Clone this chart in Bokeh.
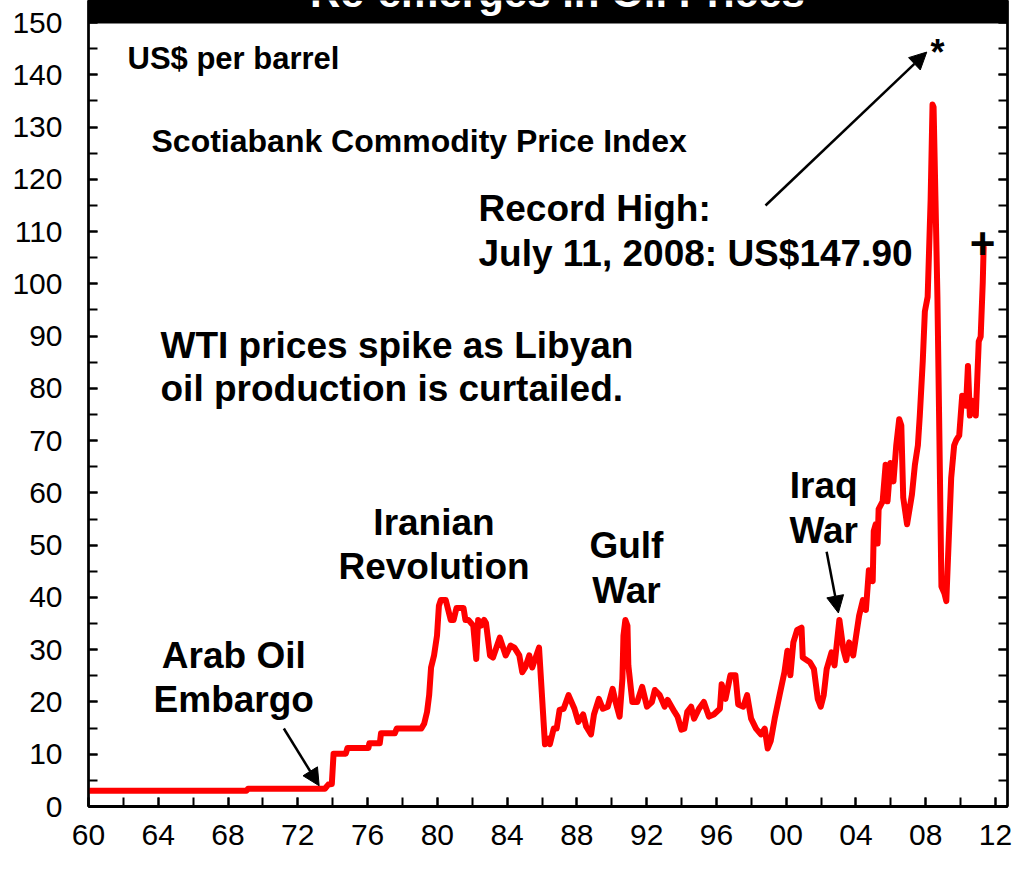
from bokeh.plotting import figure
from bokeh.models import Range1d, LinearAxis, FixedTicker, Label, Arrow, NormalHead, BoxAnnotation
from bokeh.embed import file_html
from bokeh.resources import INLINE

# ---------------- data ----------------
years = [1960.0, 1969.05, 1969.15, 1973.55, 1973.75, 1973.95, 1974.05, 1974.75, 1974.85, 1976.05,
         1976.1, 1976.7, 1976.77, 1977.56, 1977.67, 1979.08, 1979.25, 1979.41, 1979.53, 1979.64,
         1979.81, 1979.98, 1980.09, 1980.2, 1980.48, 1980.77, 1980.93, 1981.1, 1981.5, 1981.61,
         1981.78, 1982.06, 1982.23, 1982.34, 1982.51, 1982.68, 1982.79, 1983.02, 1983.19, 1983.58,
         1983.92, 1984.2, 1984.42, 1984.7, 1984.87, 1985.04, 1985.27, 1985.44, 1985.83, 1986.17,
         1986.39, 1986.45, 1986.67, 1986.84, 1987.01, 1987.24, 1987.52, 1987.86, 1988.08, 1988.36,
         1988.53, 1988.81, 1988.98, 1989.26, 1989.49, 1989.77, 1990.05, 1990.22, 1990.45, 1990.61,
         1990.67, 1990.78, 1990.9, 1990.95, 1991.18, 1991.46, 1991.74, 1992.02, 1992.3, 1992.47,
         1992.75, 1993.03, 1993.2, 1993.6, 1993.77, 1993.99, 1994.16, 1994.33, 1994.55, 1994.72,
         1995.0, 1995.28, 1995.57, 1995.85, 1996.2, 1996.3, 1996.52, 1996.8, 1997.09, 1997.25,
         1997.54, 1997.76, 1997.99, 1998.27, 1998.55, 1998.77, 1998.94, 1999.11, 1999.34, 1999.62,
         1999.9, 2000.07, 2000.24, 2000.41, 2000.63, 2000.88, 2000.95, 2001.36, 2001.59, 2001.81,
         2001.98, 2002.15, 2002.32, 2002.6, 2002.77, 2003.05, 2003.28, 2003.44, 2003.61, 2003.84,
         2004.01, 2004.18, 2004.4, 2004.57, 2004.74, 2004.96, 2005.02, 2005.13, 2005.24, 2005.3,
         2005.53, 2005.7, 2005.81, 2005.98, 2006.15, 2006.31, 2006.48, 2006.6, 2006.71, 2006.93,
         2007.21, 2007.38, 2007.55, 2007.66, 2007.83, 2007.95, 2008.11, 2008.28, 2008.39, 2008.45,
         2008.56, 2008.67, 2008.79, 2008.9, 2009.07, 2009.18, 2009.46, 2009.63, 2009.75, 2009.92,
         2010.09, 2010.31, 2010.42, 2010.53, 2010.7, 2010.87, 2011.04, 2011.15, 2011.27, 2011.32]
wti = [3.0, 3.0, 3.4, 3.4, 4.2, 4.3, 10.1, 10.1, 11.2, 11.2,
       12.1, 12.1, 14.0, 14.0, 14.9, 14.9, 15.9, 18.1, 21.3, 26.6,
       28.9, 32.7, 38.4, 39.5, 39.5, 35.7, 35.7, 38.0, 38.0, 35.7,
       35.7, 34.6, 28.2, 35.7, 34.6, 35.7, 35.1, 28.9, 28.5, 32.3,
       28.9, 30.8, 30.4, 28.9, 25.7, 26.6, 28.9, 26.6, 30.4, 11.9,
       13.0, 11.9, 14.9, 14.9, 18.5, 18.7, 21.3, 18.7, 16.2, 17.6,
       15.3, 13.8, 17.6, 20.6, 18.7, 19.1, 22.5, 20.0, 17.2, 24.4,
       32.7, 35.7, 34.6, 27.0, 20.0, 20.0, 22.9, 19.1, 20.0, 22.3,
       21.3, 19.1, 20.4, 18.1, 17.2, 14.7, 14.9, 18.1, 19.1, 16.8,
       18.7, 20.0, 17.2, 17.6, 18.7, 23.4, 20.6, 25.1, 25.1, 19.5,
       19.1, 21.3, 16.8, 14.9, 13.8, 14.9, 11.1, 12.5, 16.8, 21.3,
       25.7, 29.8, 25.1, 31.4, 33.8, 34.2, 28.5, 27.6, 26.3, 20.6,
       19.1, 21.3, 26.3, 29.5, 27.0, 35.7, 30.0, 28.0, 31.4, 28.9,
       32.7, 36.5, 39.5, 37.6, 45.2, 43.1, 52.7, 54.0, 50.3, 56.9,
       58.4, 65.4, 58.4, 65.7, 62.2, 69.1, 74.1, 72.9, 59.1, 54.0,
       59.7, 65.4, 69.1, 74.8, 85.2, 94.7, 97.5, 116.0, 134.3, 133.8,
       116.0, 97.5, 69.1, 42.1, 40.8, 39.3, 62.9, 69.1, 70.1, 71.0,
       78.6, 76.7, 84.3, 74.8, 77.6, 74.8, 89.0, 89.9, 100.3, 107.0]

x_major = list(range(1960, 2013, 4))
x_minor = list(range(1960, 2013, 2))
x_labels = ["60", "64", "68", "72", "76", "80", "84", "88", "92", "96", "00", "04", "08", "12"]
y_major = list(range(0, 151, 10))
y_minor = list(range(0, 151, 5))

title_text = "Re-emerges in Oil Prices"
unit_text = "US$ per barrel"
source_text = "Scotiabank Commodity Price Index"
record_lines = ["Record High:", "July 11, 2008: US$147.90"]
libya_lines = ["WTI prices spike as Libyan", "oil production is curtailed."]
event_labels = [("Arab Oil", "Embargo"), ("Iranian", "Revolution"), ("Gulf", "War"), ("Iraq", "War")]

# ---------------- layout ----------------
W, H = 1016, 862
B_LEFT, B_RIGHT, B_TOP, B_BOTTOM = 88, 9, 0, 56
AXIS_Y = H - B_BOTTOM                    # pixel row of value 0
FRAME_R = W - B_RIGHT                    # pixel column of right border
PX_UNIT = (AXIS_Y - 22) / 150.0          # value 150 sits at row 22
PX_YEAR = (995 - B_LEFT) / 52.0          # year 2012 sits at column 995
x_end = 1960 + (FRAME_R - B_LEFT) / PX_YEAR
y_end = AXIS_Y / PX_UNIT

FONT = "Liberation Sans"

# reference-pixel -> data (tied to the data: reference scale)
def fx(px):
    return 1960 + (px - 88) / 17.77

def fy(py):
    return (816 - py) / 5.293

# reference-pixel -> data (free-floating texts: keep their page position)
def gx(px):
    return 1960 + (px - B_LEFT) / PX_YEAR

def gy(py):
    return (AXIS_Y - py) / PX_UNIT

p = figure(width=W, height=H, output_backend="svg", toolbar_location=None,
           x_range=Range1d(1960, x_end), y_range=Range1d(0, y_end),
           min_border_left=B_LEFT, min_border_right=B_RIGHT,
           min_border_top=B_TOP, min_border_bottom=B_BOTTOM,
           x_axis_type=None, y_axis_type=None)
p.background_fill_color = "white"
p.border_fill_color = "white"
p.outline_line_color = "black"
p.outline_line_width = 2
p.xgrid.visible = False
p.ygrid.visible = False

def style_axis(ax):
    ax.axis_line_width = 3
    ax.major_tick_in = 9
    ax.major_tick_out = 0
    ax.minor_tick_in = 9
    ax.minor_tick_out = 0
    ax.major_tick_line_width = 2
    ax.minor_tick_line_width = 2
    ax.major_label_text_font = FONT
    ax.major_label_text_font_size = "30px"
    ax.major_label_text_color = "black"

# bottom axis
xax = LinearAxis(ticker=FixedTicker(ticks=x_major, minor_ticks=x_minor))
style_axis(xax)
xax.major_label_overrides = {yr: lab for yr, lab in zip(x_major, x_labels)}
xax.major_label_standoff = 18
p.add_layout(xax, "below")

# left axis
yax = LinearAxis(ticker=FixedTicker(ticks=y_major, minor_ticks=y_minor))
style_axis(yax)
yax.axis_line_width = 2.5
yax.major_label_standoff = 26
p.add_layout(yax, "left")

# right axis (ticks only, no labels)
rax = LinearAxis(ticker=FixedTicker(ticks=y_major, minor_ticks=y_minor))
style_axis(rax)
rax.axis_line_width = 2.5
rax.major_label_standoff = 0
rax.major_label_overrides = {t: "" for t in y_major}
p.add_layout(rax, "right")

# data line
p.line(years, wti, line_color="#FF0000", line_width=6, line_join="round", line_cap="round")

# title bar (cut off at the top, as in the reference)
p.add_layout(BoxAnnotation(left=1960, right=x_end, bottom=gy(23), top=y_end,
                           fill_color="black", fill_alpha=1.0, line_alpha=0))
p.add_layout(Label(x=gx(557), y=gy(-8), text=title_text, text_color="white",
                   text_font=FONT, text_font_size="42px", text_font_style="bold",
                   text_align="center", text_baseline="middle"))

def add_text(x, y, txt, size, align="left"):
    p.add_layout(Label(x=x, y=y, text=txt, text_color="black",
                       text_font=FONT, text_font_size=size, text_font_style="bold",
                       text_align=align, text_baseline="middle"))

add_text(gx(127), gy(58), unit_text, "31px")
add_text(gx(151), gy(140), source_text, "32px")
add_text(gx(478), gy(208), record_lines[0], "37px")
add_text(gx(478), gy(253), record_lines[1], "37px")
add_text(gx(160), gy(345), libya_lines[0], "37px")
add_text(gx(160), gy(388), libya_lines[1], "37px")

event_pos = [(236, 663, 708), (440, 528, 573), (636, 552, 597), (837, 491, 537)]
for (l1, l2), (cx, y1, y2) in zip(event_labels, event_pos):
    add_text(fx(cx), fy(y1), l1, "37px", "center")
    add_text(fx(cx), fy(y2), l2, "37px", "center")

# markers "*" and "+"
add_text(fx(953), fy(52), "*", "36px", "center")
add_text(fx(999), fy(246), "+", "44px", "center")

# arrows
def add_arrow(x0, y0, x1, y1):
    p.add_layout(Arrow(x_start=x0, y_start=y0, x_end=x1, y_end=y1,
                       line_color="black", line_width=2.5,
                       end=NormalHead(size=17, fill_color="black", line_color="black", line_width=1)))

add_arrow(gx(765), gy(205), fx(942), fy(52))
add_arrow(fx(287), fy(737), fx(323), fy(795))
add_arrow(fx(840), fy(558), fx(852), fy(620))

open("out.html", "w").write(file_html(p, INLINE))
